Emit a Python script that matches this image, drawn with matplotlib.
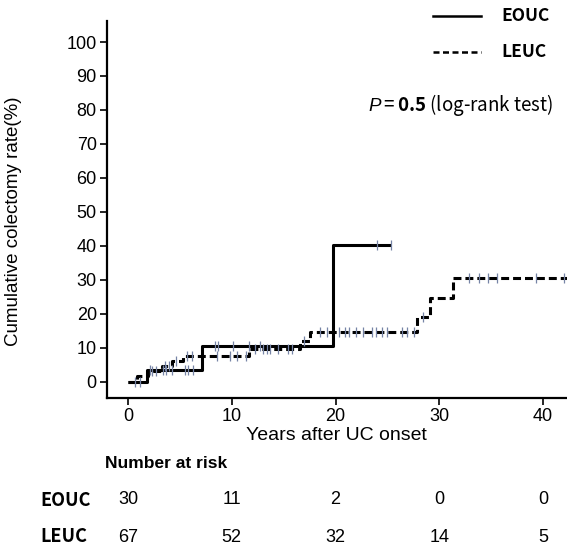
import numpy as np
import matplotlib
matplotlib.use("Agg")
import matplotlib.pyplot as plt
from matplotlib.lines import Line2D
from matplotlib.transforms import blended_transform_factory

plt.rcParams["font.family"] = ["Liberation Sans", "DejaVu Sans"]
plt.rcParams["mathtext.fontset"] = "custom"
plt.rcParams["mathtext.it"] = "Liberation Sans:italic"
plt.rcParams["mathtext.bf"] = "Noto Sans CJK JP:bold"
plt.rcParams["mathtext.rm"] = "Noto Sans CJK JP"

JP = ["Noto Sans CJK JP", "DejaVu Sans"]

# ── Data ──────────────────────────────────────────────────────────────────────
eouc_t = [0, 1.85, 7.15, 19.8, 25.3]
eouc_y = [0, 3.3, 10.5, 40.3, 40.3]
eouc_cens = [0.7, 1.2, 2.1, 3.4, 3.7, 4.2, 5.5, 5.8, 6.3, 8.4, 8.7, 10.1,
             11.7, 12.7, 24.0, 25.3]

leuc_t = [0, 0.9, 1.9, 3.3, 4.2, 5.3, 11.7, 16.6, 17.5, 27.8, 29.1, 31.3, 42.5]
leuc_y = [0, 1.5, 3.0, 4.5, 6.0, 7.6, 9.6, 12.0, 14.6, 19.0, 24.5, 30.5, 30.5]
leuc_cens = [2.3, 2.7, 3.6, 4.0, 4.6, 5.7, 6.2, 8.6, 9.8, 10.5, 11.4,
             12.2, 13.0, 13.4, 13.7, 14.5, 15.4, 15.8, 17.0,
             18.5, 19.2, 20.3, 20.9, 21.3, 22.0, 22.6, 23.5, 23.9, 24.5, 25.0,
             26.4, 26.9, 27.6, 28.4, 32.9, 33.8, 34.7, 35.6, 39.3, 42.0]

risk_times = [0, 10, 20, 30, 40]
risk_eouc = [30, 11, 2, 0, 0]
risk_leuc = [67, 52, 32, 14, 5]

p_text = r"$\mathit{P} = \mathbf{0.5}$ (log-rank test)"


def step_value(t, y, x):
    idx = np.searchsorted(np.asarray(t), np.asarray(x), side="right") - 1
    return np.asarray(y)[np.clip(idx, 0, len(y) - 1)]


# ── Figure ────────────────────────────────────────────────────────────────────
W, H = 567, 547
fig = plt.figure(figsize=(W / 100, H / 100), dpi=100, facecolor="white")
ax = fig.add_axes([106.5 / W, 1 - 398 / H, (W - 106.5) / W, (398 - 21) / H])

dash = (0, (2.6, 1.3))
ax.step(eouc_t, eouc_y, where="post", color="black", lw=2.2, solid_capstyle="butt")
ax.step(leuc_t, leuc_y, where="post", color="black", lw=2.2, linestyle=dash)

cens_col = "#7684a6"
ax.plot(eouc_cens, step_value(eouc_t, eouc_y, eouc_cens), linestyle="none",
        marker="|", ms=7, mew=0.9, color=cens_col)
ax.plot(leuc_cens, step_value(leuc_t, leuc_y, leuc_cens), linestyle="none",
        marker="|", ms=7, mew=0.9, color=cens_col)

ax.set_xlim(-2.07, 42.3)
ax.set_ylim(-4.86, 106.2)
ax.set_xticks([0, 10, 20, 30, 40])
ax.set_yticks(np.arange(0, 101, 10))
ax.spines[["top", "right"]].set_visible(False)
ax.spines[["left", "bottom"]].set_linewidth(1.6)
ax.tick_params(direction="out", length=5, width=1.2, labelsize=13, pad=2)
ax.set_xlabel("Years after UC onset", fontsize=14, labelpad=2)
ax.set_ylabel("Cumulative colectomy rate(%)", fontsize=13.5, labelpad=23)
ax.yaxis.set_label_coords(-0.183, 0.47)

# legend (outside, top right)
for yy, ls, lab in [(16, "-", "EOUC"), (52, (0, (2.4, 1.4)), "LEUC")]:
    fig.add_artist(Line2D([433 / W, 481 / W], [1 - yy / H] * 2, color="black",
                          lw=1.8, linestyle=ls))
    fig.text(501 / W, 1 - yy / H, lab, family=JP, fontsize=12.5,
             fontweight="bold", va="center", ha="left")

fig.text(553 / W, 1 - 105 / H, p_text, family=JP, fontsize=13.5,
         ha="right", va="center")

# number at risk table
tr = blended_transform_factory(ax.transData, fig.transFigure)
fig.text(105 / W, 1 - 464 / H, "Number at risk", fontsize=12.5, fontweight="bold",
         va="center", ha="left")
for yy, lab, vals in [(500, "EOUC", risk_eouc), (537, "LEUC", risk_leuc)]:
    fig.text(40 / W, 1 - yy / H, lab, family=JP, fontsize=13, fontweight="bold",
             va="center", ha="left")
    for t, v in zip(risk_times, vals):
        ax.text(t, 1 - yy / H, str(v), transform=tr, fontsize=13,
                ha="center", va="center", clip_on=False)

fig.savefig("out.png", dpi=100, facecolor="white")
